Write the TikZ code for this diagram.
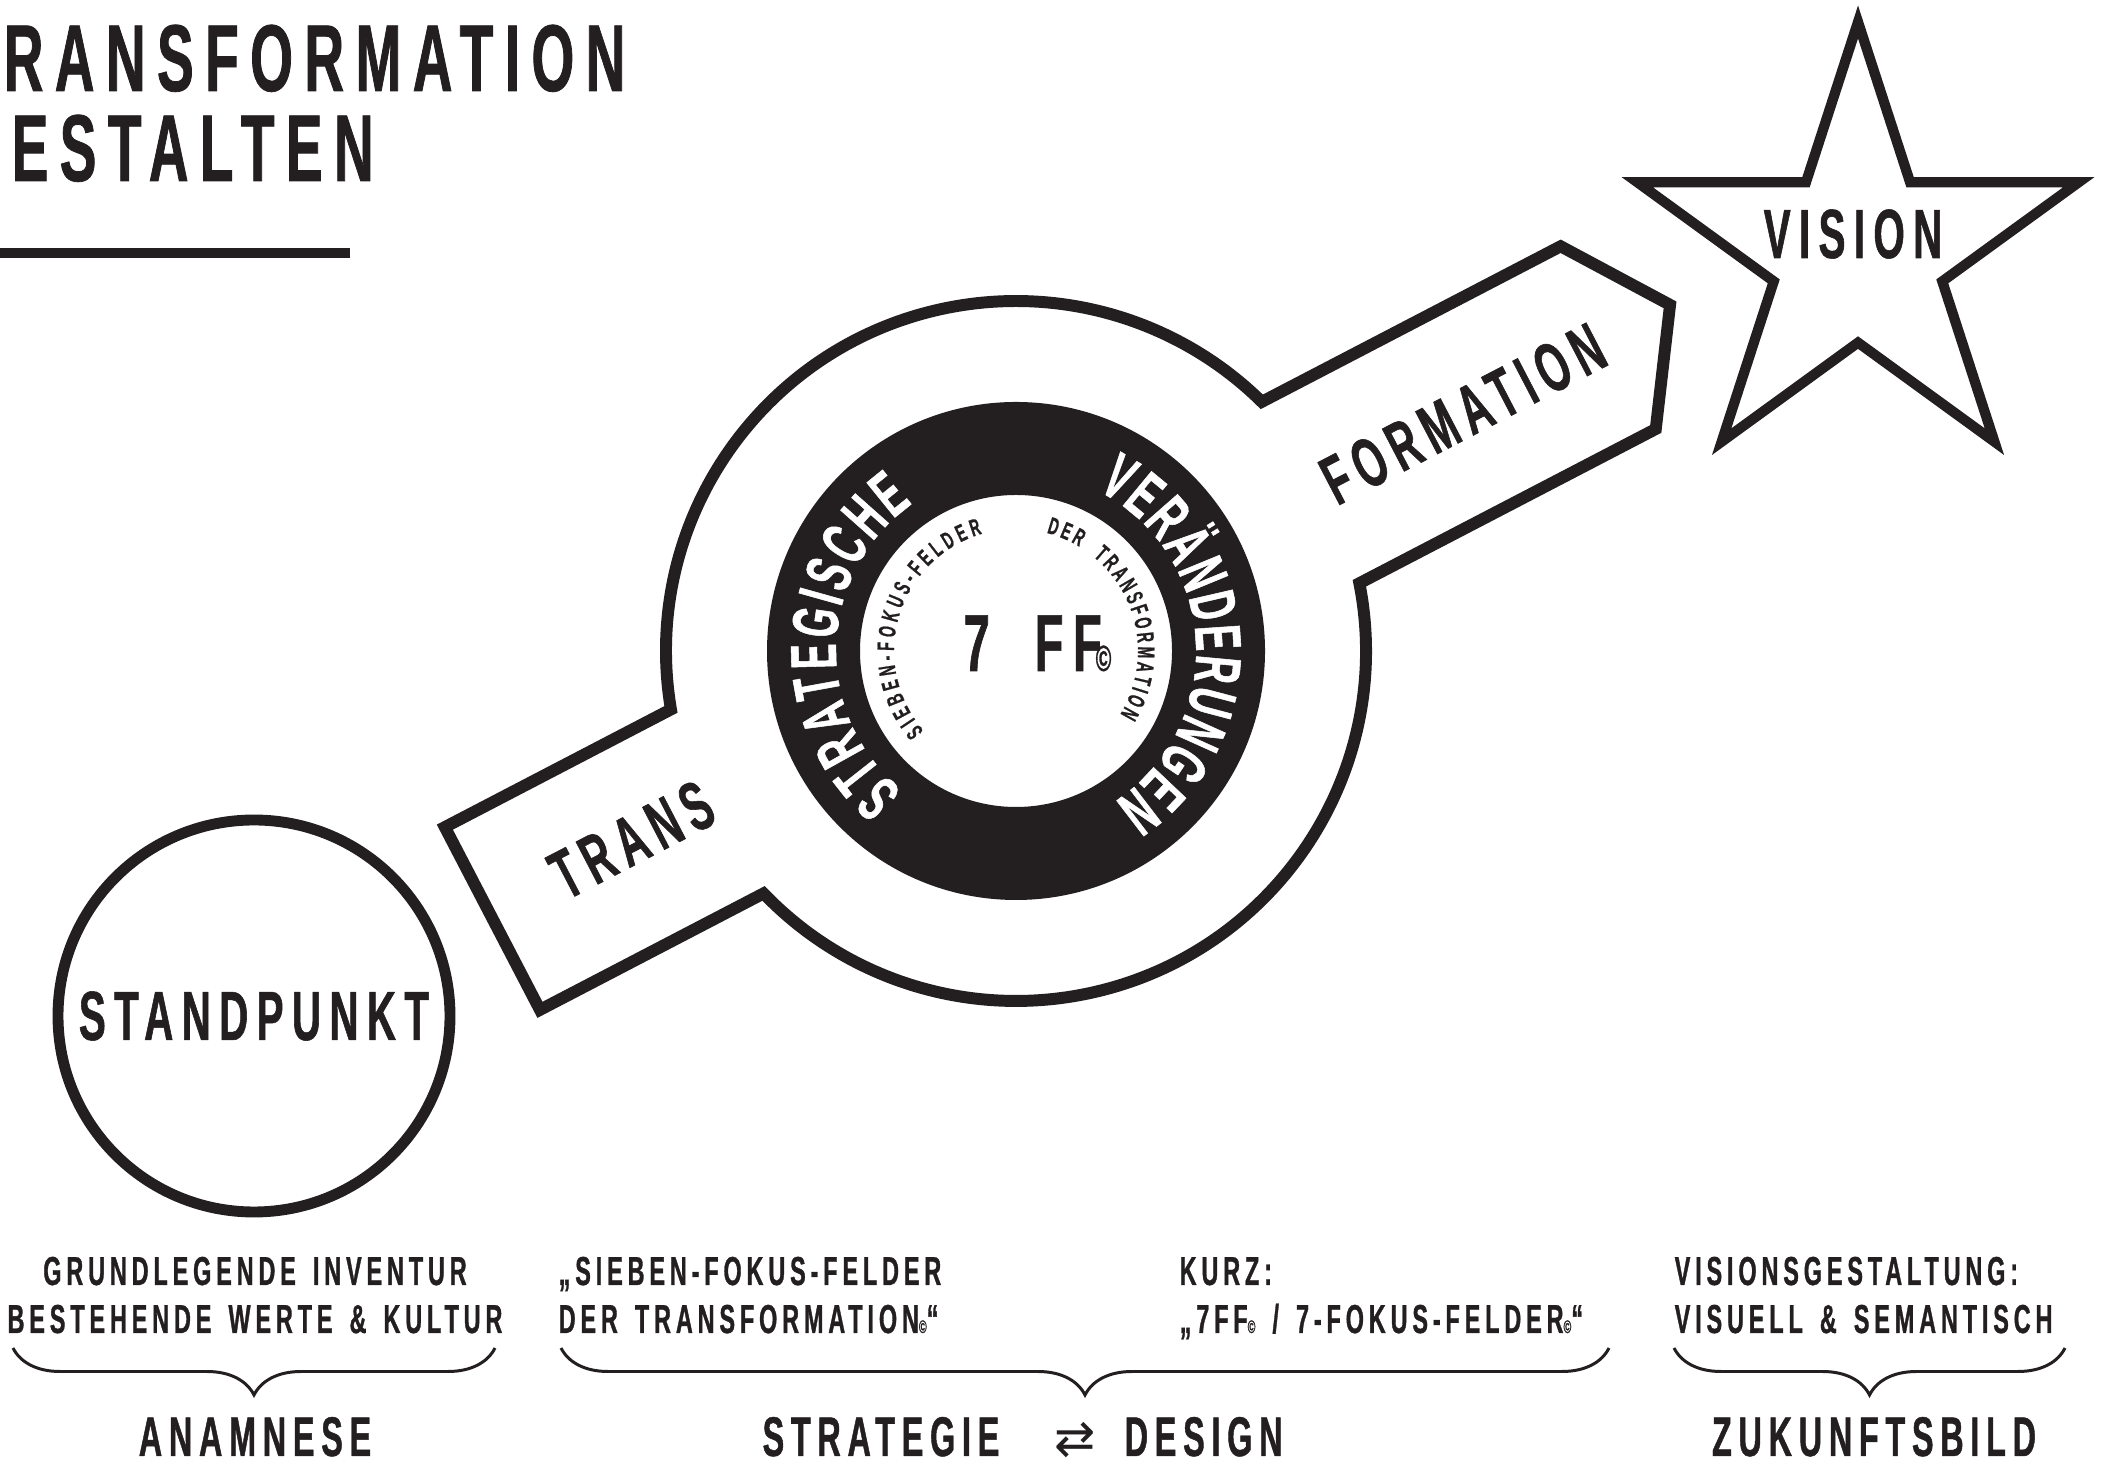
\documentclass[tikz,border=0pt]{standalone}
\usepackage{fontspec}
\setmainfont{Liberation Sans}[FakeStretch=0.58, LetterSpace=12, WordSpace=1.5, FakeBold=0.8]
\newfontfamily\arrowfont{DejaVu Sans}
\usetikzlibrary{positioning,decorations.text,decorations.pathreplacing}
\definecolor{ink}{RGB}{35,31,32}

\newcommand{\titlefont}{\fontsize{27}{30}\selectfont\bfseries}
\newcommand{\bigfont}{\fontsize{19.8}{22}\selectfont\bfseries}
\newcommand{\ringfont}{\fontsize{18.5}{21}\selectfont\bfseries}
\newcommand{\tinyfont}{\fontsize{6.8}{8}\selectfont\bfseries}
\newcommand{\notefont}{\fontsize{11.5}{13}\selectfont\bfseries}
\newcommand{\headfont}{\fontsize{15.9}{18}\selectfont\bfseries}
\newcommand{\copymark}{\scalebox{0.45}{©}}

\tikzset{
  outline/.style={draw=ink, line width=3.4pt, fill=white},
  thinline/.style={draw=ink, line width=3.1pt},
  bigtext/.style={text=ink, inner sep=0pt, font=\bigfont},
  notetext/.style={text=ink, inner sep=0pt, font=\notefont},
  headtext/.style={text=ink, inner sep=0pt, font=\headfont},
  bracket/.style={draw=ink, line width=0.85pt, decorate,
    decoration={brace, mirror, amplitude=0.47cm}},
}

\begin{document}
\begin{tikzpicture}
\useasboundingbox (0,0) rectangle (21.08,14.64);

% title
\node[anchor=base west, text=ink, inner sep=0pt, font=\titlefont] (titleA) at (0.03,13.73) {RANSFORMATION};
\node[anchor=base west, text=ink, inner sep=0pt, font=\titlefont] (titleB) at (0.11,12.83) {ESTALTEN};
\draw[ink, line width=2.85pt] (0,12.11) -- (3.50,12.11);

% standpunkt
\node[circle, thinline, minimum size=3.92cm, bigtext] (standpunkt) at (2.54,4.48) {STANDPUNKT};

% band and circle
\coordinate (ctr) at (10.16,8.13);
\begin{scope}[shift={(ctr)}, rotate=27.5]
\draw[outline] (-5.88,1.075) -- (162.11:3.5) arc[start angle=162.11, end angle=17.89, radius=3.5]
  -- (6.70,1.075) -- (7.40,0.05) -- (6.70,-0.985)
  -- (-16.34:3.5) arc[start angle=-16.34, end angle=-163.66, radius=3.5]
  -- (-5.88,-0.985) -- cycle;
\node[bigtext, transform shape] (trans) at (-4.28,0.10) {TRANS};
\node[bigtext, transform shape] (formation) at (5.06,0.04) {FORMATION};
\end{scope}

% black ring
\fill[ink, even odd rule] (ctr) circle[radius=2.49] (ctr) circle[radius=1.56];
\path[decorate, decoration={text along path, text={|\ringfont|STRATEGISCHE},
  text align={fit to path}, text color=white}]
  ([shift={(231:1.80)}]ctr) arc[start angle=231, end angle=125, radius=1.80];
\path[decorate, decoration={text along path, text={|\ringfont|VERÄNDERUNGEN},
  text align={fit to path}, text color=white}]
  ([shift={(63.2:1.80)}]ctr) arc[start angle=63.2, end angle=-56.9, radius=1.80];
\path[decorate, decoration={text along path, text={|\tinyfont|SIEBEN-FOKUS-FELDER},
  text align={fit to path}, text color=ink}]
  ([shift={(221:1.22)}]ctr) arc[start angle=221, end angle=106, radius=1.22];
\path[decorate, decoration={text along path, text={|\tinyfont|DER TRANSFORMATION},
  text align={fit to path}, text color=ink}]
  ([shift={(75.5:1.22)}]ctr) arc[start angle=75.5, end angle=-31.4, radius=1.22];
\node[anchor=base west, text=ink, inner sep=0pt, font=\fontsize{23}{26}\selectfont\bfseries] (sevenff) at (9.63,7.93) {7\hspace{0.45cm}FF\hspace{-0.06cm}\copymark};

% vision star
\begin{scope}[shift={(18.58,12.10)}]
\draw[draw=ink, line width=2.9pt, fill=white] (90:2.32) \foreach \k in {1,...,4} {-- (54+72*\k:0.886) -- (90+72*\k:2.32)} -- (54:0.886) -- cycle;
\end{scope}
\node[bigtext, anchor=base] (vision) at (18.53,12.06) {VISION};

% notes
\node[notetext, anchor=base] (inventur) at (2.55,1.79) {GRUNDLEGENDE INVENTUR};
\node[notetext, anchor=base] (werte) at (2.55,1.31) {BESTEHENDE WERTE \& KULTUR};
\node[notetext, anchor=base west] (sieben) at (5.58,1.79) {„SIEBEN-FOKUS-FELDER};
\node[notetext, anchor=base west] (dertrans) at (5.58,1.31) {DER TRANSFORMATION\copymark“};
\node[notetext, anchor=base west] (kurz) at (11.79,1.79) {KURZ:};
\node[notetext, anchor=base west] (kurzform) at (11.79,1.31) {„7FF\copymark{} / 7-FOKUS-FELDER\copymark“};
\node[notetext, anchor=base west] (visgest) at (16.74,1.79) {VISIONSGESTALTUNG:};
\node[notetext, anchor=base west] (visuell) at (16.74,1.31) {VISUELL \& SEMANTISCH};

\draw[bracket] (0.13,1.16) -- (4.95,1.16);
\draw[bracket] (5.61,1.16) -- (16.09,1.16);
\draw[bracket] (16.74,1.16) -- (20.65,1.16);

\node[headtext, anchor=base] (anamnese) at (2.55,0.08) {ANAMNESE};
\node[text=ink, inner sep=0pt, anchor=base, font=\fontsize{14}{16}\selectfont\arrowfont] (swap) at (10.75,0.08) {⇄};
\node[headtext, anchor=base east] (strategie) at (10.00,0.08) {STRATEGIE};
\node[headtext, anchor=base west] (design) at (11.24,0.08) {DESIGN};
\node[headtext, anchor=base] (zukunft) at (18.74,0.08) {ZUKUNFTSBILD};
\end{tikzpicture}
\end{document}
